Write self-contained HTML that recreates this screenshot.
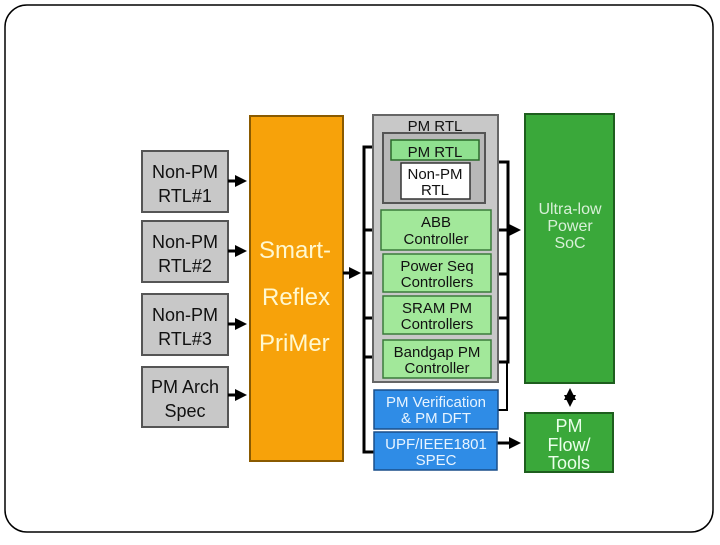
<!DOCTYPE html>
<html><head><style>
html,body{margin:0;padding:0;background:#fff;}
svg text{font-family:"Liberation Sans",Arial,sans-serif;}
</style></head><body>
<svg width="720" height="540" xmlns="http://www.w3.org/2000/svg">
<defs>
<marker id="ah" markerWidth="4" markerHeight="4" refX="3" refY="2" orient="auto-start-reverse" markerUnits="strokeWidth"><path d="M0,0 L4,2 L0,4 z" fill="#000"/></marker>
</defs>
<rect x="5" y="5" width="708" height="527" rx="22" fill="#fff" stroke="#000" stroke-width="1.5"/>

<g fill="#c8c8c8" stroke="#555" stroke-width="2">
<rect x="142" y="151" width="86" height="61"/>
<rect x="142" y="221" width="86" height="61"/>
<rect x="142" y="294" width="86" height="61"/>
<rect x="142" y="367" width="86" height="60"/>
</g>
<g font-size="18" text-anchor="middle" fill="#111">
<text x="185" y="178">Non-PM</text><text x="185" y="202">RTL#1</text>
<text x="185" y="248">Non-PM</text><text x="185" y="272">RTL#2</text>
<text x="185" y="321">Non-PM</text><text x="185" y="345">RTL#3</text>
<text x="185" y="393">PM Arch</text><text x="185" y="417">Spec</text>
</g>
<g stroke="#000" stroke-width="3" marker-end="url(#ah)">
<line x1="228" y1="181" x2="244" y2="181"/>
<line x1="228" y1="251" x2="244" y2="251"/>
<line x1="228" y1="324" x2="244" y2="324"/>
<line x1="228" y1="395" x2="244" y2="395"/>
</g>

<rect x="250" y="116" width="93" height="345" fill="#f7a20a" stroke="#8a5a00" stroke-width="2"/>
<g font-size="24" fill="#fff8d0">
<text x="259" y="258">Smart-</text>
<text x="262" y="305">Reflex</text>
<text x="259" y="351">PriMer</text>
</g>

<g stroke="#000" stroke-width="3" fill="none">
<line x1="343" y1="273" x2="358" y2="273" marker-end="url(#ah)"/>
<polyline points="385,147 364,147 364,452 375,452"/>
<line x1="364" y1="230" x2="382" y2="230"/>
<line x1="364" y1="273" x2="384" y2="273"/>
<line x1="364" y1="318" x2="384" y2="318"/>
<line x1="364" y1="357" x2="384" y2="357"/>
<polyline points="485,162 508,162 508,362 490,362"/>
<line x1="490" y1="230" x2="518" y2="230" marker-end="url(#ah)"/>
<line x1="490" y1="274" x2="508" y2="274"/>
<line x1="490" y1="318" x2="508" y2="318"/>
<line x1="497" y1="443" x2="518" y2="443" marker-end="url(#ah)"/>
</g>
<polyline points="507,362 507,410 497,410" stroke="#000" stroke-width="2" fill="none"/>

<rect x="373" y="115" width="125" height="267" fill="#c8c8c8" stroke="#666" stroke-width="2"/>
<text x="435" y="131" font-size="15" text-anchor="middle" fill="#111">PM RTL</text>
<rect x="383" y="133" width="102" height="70" fill="#b8b8b8" stroke="#555" stroke-width="2"/>
<rect x="391" y="140" width="88" height="20" fill="#8fe08f" stroke="#2a6a2a" stroke-width="1.5"/>
<text x="435" y="157" font-size="15" text-anchor="middle" fill="#111">PM RTL</text>
<rect x="401" y="163" width="69" height="36" fill="#fff" stroke="#333" stroke-width="1.5"/>
<text x="435" y="179" font-size="15" text-anchor="middle" fill="#111">Non-PM</text>
<text x="435" y="195" font-size="15" text-anchor="middle" fill="#111">RTL</text>

<g fill="#a2e89a" stroke="#3a7a3a" stroke-width="1.5">
<rect x="381" y="210" width="110" height="40"/>
<rect x="383" y="254" width="108" height="38"/>
<rect x="383" y="296" width="108" height="38"/>
<rect x="383" y="340" width="108" height="38"/>
</g>
<g font-size="15" text-anchor="middle" fill="#111">
<text x="436" y="227">ABB</text><text x="436" y="244">Controller</text>
<text x="437" y="271">Power Seq</text><text x="437" y="287">Controllers</text>
<text x="437" y="313">SRAM PM</text><text x="437" y="329">Controllers</text>
<text x="437" y="357">Bandgap PM</text><text x="437" y="373">Controller</text>
</g>

<g fill="#2f8ce6" stroke="#1a4f8a" stroke-width="1.5">
<rect x="374" y="390" width="124" height="39"/>
<rect x="374" y="432" width="123" height="38"/>
</g>
<g font-size="15" text-anchor="middle" fill="#e8f4ff">
<text x="436" y="407">PM Verification</text><text x="436" y="423">&amp; PM DFT</text>
<text x="436" y="449">UPF/IEEE1801</text><text x="436" y="465">SPEC</text>
</g>

<rect x="525" y="114" width="89" height="269" fill="#3aa83a" stroke="#1e5e1e" stroke-width="2"/>
<g font-size="16" text-anchor="middle" fill="#d8f0d8">
<text x="570" y="214">Ultra-low</text><text x="570" y="231">Power</text><text x="570" y="248">SoC</text>
</g>
<rect x="525" y="413" width="88" height="59" fill="#3aa83a" stroke="#1e5e1e" stroke-width="2"/>
<g font-size="18" text-anchor="middle" fill="#eaffea">
<text x="569" y="432">PM</text><text x="569" y="451">Flow/</text><text x="569" y="469">Tools</text>
</g>
<line x1="570" y1="391" x2="570" y2="404" stroke="#000" stroke-width="3" marker-end="url(#ah)" marker-start="url(#ah)"/>
</svg>
</body></html>
